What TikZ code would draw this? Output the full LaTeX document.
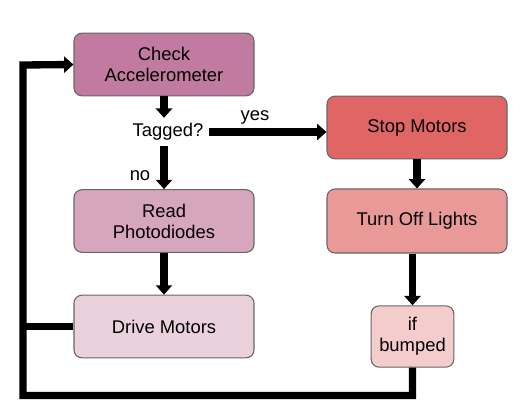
\documentclass[tikz,border=0pt]{standalone}
\usepackage{fontspec}
\setmainfont{Liberation Sans}
\usetikzlibrary{arrows.meta}
\definecolor{cA}{HTML}{C27BA0}
\definecolor{cB}{HTML}{D5A6BD}
\definecolor{cC}{HTML}{EAD1DC}
\definecolor{cD}{HTML}{E06666}
\definecolor{cE}{HTML}{EA9999}
\definecolor{cF}{HTML}{F4CCCC}
\definecolor{bord}{HTML}{666666}
\tikzset{
  box/.style={draw=bord, line width=0.8pt, rounded corners=6pt, align=center,
    minimum width=135pt, minimum height=47pt, inner sep=0pt,
    font=\fontsize{13.8}{15.8}\selectfont},
  lbl/.style={inner sep=0pt, font=\fontsize{13.8}{15.8}\selectfont},
  conn/.style={line width=5.5pt, line join=miter},
  arr/.style={conn, -{Triangle[width=12pt,length=7pt]}},
}
\begin{document}
\begin{tikzpicture}[x=0.75pt,y=-0.75pt]
\useasboundingbox (0,0) rectangle (529,412);
\node[box, fill=cA] (acc) at (164,64.5) {Check\\Accelerometer};
\node[lbl, inner sep=4pt] (tag) at (168,132) {Tagged?};
\node[box, fill=cB] (read) at (164,221) {Read\\Photodiodes};
\node[box, fill=cC] (drive) at (164,326.5) {Drive Motors};
\node[box, fill=cD] (stop) at (417,127.5) {Stop Motors};
\node[box, fill=cE, minimum height=48pt] (turn) at (417,221) {Turn Off Lights};
\node[box, fill=cF, minimum width=62pt, minimum height=46pt] (bump) at (412.5,336.5) {if\\bumped};
\node[lbl] (yes) at (255,117) {yes};
\node[lbl] (no) at (140,176) {no};
\coordinate (lb) at (23,395.5);
\coordinate (lt) at (23,65);
\draw[arr] (acc.south) -- (acc.south |- tag.north);
\draw[arr] (tag.east) -- (stop.west |- tag.east);
\draw[arr] (read.north |- tag.south) -- (read.north);
\draw[arr] (read.south) -- (drive.north);
\draw[arr] (stop.south) -- (turn.north);
\draw[arr] (bump.north |- turn.south) -- (bump.north);
\draw[arr] (bump.south) |- (lb) -- (lt) -- (acc.west);
\draw[conn] (drive.west) -- (drive.west -| lb);
\end{tikzpicture}
\end{document}
